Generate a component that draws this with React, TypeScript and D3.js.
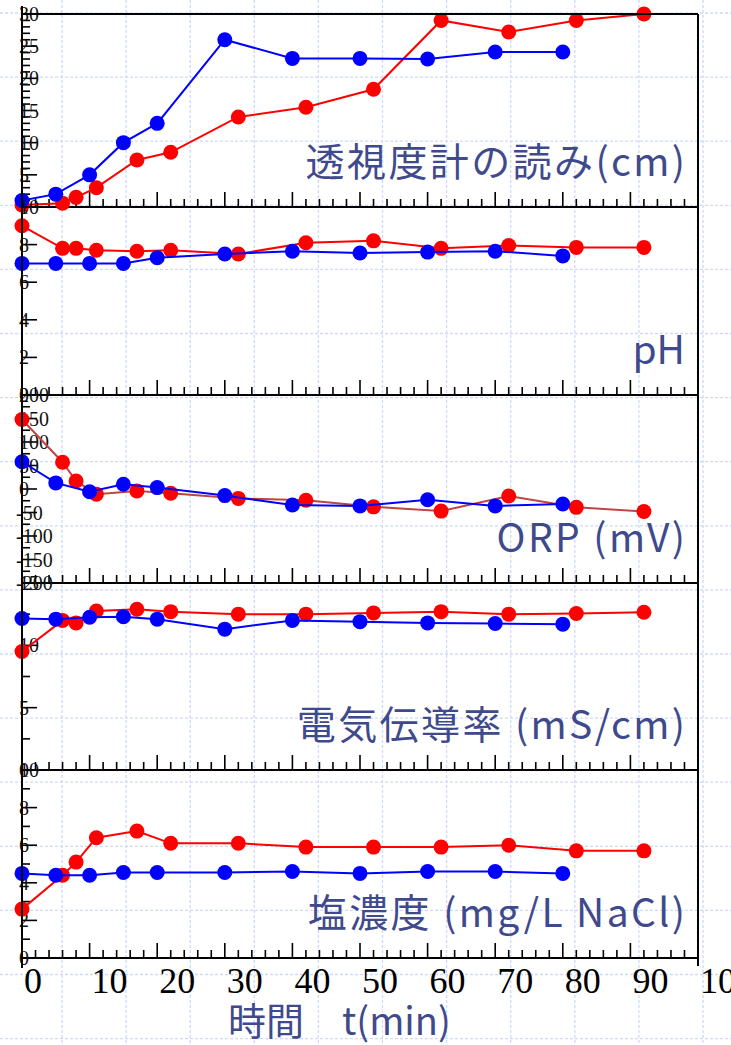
import React, {useEffect, useRef} from 'react';
import * as d3 from 'd3';

// sampling times (min) for the two runs
const blueTimes = [0, 5, 10, 15, 20, 30, 40, 50, 60, 70, 80];
const redTimes = [0, 6, 8, 11, 17, 22, 32, 42, 52, 62, 72, 82, 92];

// 透視度計の読み (cm)
const clarityBlue = [1, 2, 5, 10, 13, 26, 23.1, 23.1, 23, 24.1, 24.1];
const clarityRed = [0.3, 0.6, 1.5, 3, 7.3, 8.5, 14, 15.5, 18.3, 29, 27.2, 29, 30];
// pH
const phBlue = [7.0, 7.0, 7.0, 7.0, 7.3, 7.5, 7.65, 7.55, 7.6, 7.65, 7.4];
const phRed = [9.0, 7.8, 7.8, 7.7, 7.65, 7.7, 7.5, 8.1, 8.2, 7.8, 7.95, 7.85, 7.85];
// ORP (mV)
const orpBlue = [58, 13, -6, 10, 3, -14, -34, -36, -23, -36, -32];
const orpRed = [148, 57, 17, -11, -4, -9, -20, -24, -38, -47, -15, -39, -48];
// 電気伝導率 (mS/cm)
const condBlue = [12.15, 12.1, 12.25, 12.3, 12.1, 11.3, 12.0, 11.9, 11.8, 11.75, 11.7];
const condRed = [9.5, 12.0, 11.8, 12.75, 12.9, 12.7, 12.5, 12.5, 12.6, 12.7, 12.5, 12.55, 12.65];
// 塩濃度 (mg/L NaCl)
const saltBlue = [4.5, 4.4, 4.4, 4.55, 4.55, 4.55, 4.6, 4.5, 4.6, 4.6, 4.5];
const saltRed = [2.6, 4.4, 5.1, 6.4, 6.75, 6.1, 6.1, 5.9, 5.9, 5.9, 6.0, 5.7, 5.7];

const xTicks = [0, 10, 20, 30, 40, 50, 60, 70, 80, 90, 100];

interface Panel {
  title: string;
  domain: [number, number];
  major: number;
  minor: number;
  blue: number[];
  red: number[];
  redLine: string;
}

const panels: Panel[] = [
  {title: '透視度計の読み(cm)', domain: [0, 30], major: 5, minor: 1, blue: clarityBlue, red: clarityRed, redLine: '#ff0000'},
  {title: 'pH', domain: [0, 10], major: 2, minor: 2, blue: phBlue, red: phRed, redLine: '#ff0000'},
  {title: 'ORP (mV)', domain: [-200, 200], major: 50, minor: 25, blue: orpBlue, red: orpRed, redLine: '#bf4545'},
  {title: '電気伝導率 (mS/cm)', domain: [0, 15], major: 5, minor: 2.5, blue: condBlue, red: condRed, redLine: '#ff0000'},
  {title: '塩濃度 (mg/L NaCl)', domain: [0, 10], major: 2, minor: 1, blue: saltBlue, red: saltRed, redLine: '#ff0000'},
];

const App = () => {
  const ref = useRef<SVGSVGElement>(null);

  useEffect(() => {
    document.body.style.margin = '0';
    drawChart();
    // clean up so a re-mount doesn't stack a second copy
    return () => {
      d3.select(ref.current).selectAll('*').remove();
    };
  }, []);

  const drawChart = () => {
    const width = 731;
    const height = 1045;
    // panel edges (top of first panel .. bottom of last)
    const edges = [14, 207, 395, 583, 770, 958];
    const left = 22;
    const right = 698;
    const titleColor = '#3f4a8c';
    const jpFont = '"Noto Sans CJK JP", "Noto Sans", sans-serif';
    const numFont = '"Liberation Serif", serif';

    const svg = d3.select(ref.current);

    // slide grid in the background
    const grid = svg.append('g');
    d3.range(62 - 64.1, width, 64.1).forEach(gx => {
      grid.append('line')
        .attr('x1', gx).attr('x2', gx).attr('y1', 0).attr('y2', height)
        .attr('stroke', '#cddbf7').attr('stroke-width', 1.3).attr('stroke-dasharray', '3,2');
    });
    d3.range(13, height, 64.1).forEach(gy => {
      grid.append('line')
        .attr('x1', 0).attr('x2', width).attr('y1', gy).attr('y2', gy)
        .attr('stroke', '#cddbf7').attr('stroke-width', 1.3).attr('stroke-dasharray', '3,2');
    });

    const x = d3.scaleLinear().domain([0, 100]).range([left, right]);

    panels.forEach((p, i) => {
      const top = edges[i];
      const bottom = edges[i + 1];
      const y = d3.scaleLinear().domain(p.domain).range([bottom, top]);
      const g = svg.append('g');

      // bottom axis line + upward ticks
      g.append('line')
        .attr('x1', left).attr('x2', right).attr('y1', bottom).attr('y2', bottom)
        .attr('stroke', '#000').attr('stroke-width', 2);
      d3.range(0, 100.01, 2).forEach(t => {
        const isMajor = t % 10 === 0;
        g.append('line')
          .attr('x1', x(t)).attr('x2', x(t))
          .attr('y1', bottom).attr('y2', bottom - (isMajor ? 15 : 8))
          .attr('stroke', '#000').attr('stroke-width', 1.6);
      });

      // left ticks pointing inward
      const [lo, hi] = p.domain;
      d3.range(lo, hi + 0.001, p.minor).forEach(v => {
        const isMajor = Math.abs(v / p.major - Math.round(v / p.major)) < 1e-6;
        g.append('line')
          .attr('x1', left).attr('x2', left + (isMajor ? 15 : 8))
          .attr('y1', y(v)).attr('y2', y(v))
          .attr('stroke', '#000').attr('stroke-width', 1.6);
      });

      // tick labels sitting right on top of the axis (they overlap at panel joins, like the original)
      d3.range(lo, hi + 0.001, p.major).forEach(v => {
        g.append('text')
          .attr('x', v < 0 ? 16 : 19)
          .attr('y', y(v))
          .attr('dy', '0.35em')
          .attr('font-family', numFont)
          .attr('font-size', '20px')
          .attr('fill', '#111')
          .text(v < 0 ? `-${Math.abs(v)}` : `${v}`);
      });

      // red run
      g.append('path')
        .datum(p.red)
        .attr('d', d3.line<number>().x((_, j) => x(redTimes[j])).y(d => y(d)))
        .attr('fill', 'none')
        .attr('stroke', p.redLine)
        .attr('stroke-width', 2);
      g.selectAll('.red')
        .data(p.red)
        .enter().append('circle')
        .attr('cx', (_, j) => x(redTimes[j]))
        .attr('cy', d => y(d))
        .attr('r', 7.5)
        .attr('fill', '#ff0000');

      // blue run
      g.append('path')
        .datum(p.blue)
        .attr('d', d3.line<number>().x((_, j) => x(blueTimes[j])).y(d => y(d)))
        .attr('fill', 'none')
        .attr('stroke', '#0000ff')
        .attr('stroke-width', 2);
      g.selectAll('.blue')
        .data(p.blue)
        .enter().append('circle')
        .attr('cx', (_, j) => x(blueTimes[j]))
        .attr('cy', d => y(d))
        .attr('r', 7.5)
        .attr('fill', '#0000ff');

      // panel title, right aligned; the slide font is a bit looser than Noto
      const spacing = p.title.length > 4 ? 2.4 : 0;
      g.append('text')
        .attr('x', 685 + spacing)
        .attr('y', bottom - 31)
        .attr('text-anchor', 'end')
        .attr('font-family', jpFont)
        .attr('font-size', '39px')
        .attr('letter-spacing', spacing)
        .attr('fill', titleColor)
        .text(p.title);
    });

    // frame: top, left and right edges
    svg.append('line')
      .attr('x1', left).attr('x2', right).attr('y1', edges[0]).attr('y2', edges[0])
      .attr('stroke', '#000').attr('stroke-width', 2);
    svg.append('line')
      .attr('x1', left).attr('x2', left).attr('y1', 6).attr('y2', 968)
      .attr('stroke', '#000').attr('stroke-width', 2);
    svg.append('line')
      .attr('x1', right).attr('x2', right).attr('y1', edges[0]).attr('y2', 966)
      .attr('stroke', '#000').attr('stroke-width', 2);

    // time axis labels (the last one runs off the slide edge, as in the original)
    xTicks.forEach(t => {
      svg.append('text')
        .attr('x', x(t) + 2)
        .attr('y', 993)
        .attr('font-family', numFont)
        .attr('font-size', '36px')
        .attr('fill', '#000')
        .text(t);
    });

    svg.append('text')
      .attr('x', 228)
      .attr('y', 1035)
      .attr('font-family', jpFont)
      .attr('font-size', '38px')
      .attr('fill', titleColor)
      .text('時間　t(min)');
  };

  return (
    <svg ref={ref} width={731} height={1045} style={{display: 'block', background: '#fff'}} />
  );
};

export default App;
